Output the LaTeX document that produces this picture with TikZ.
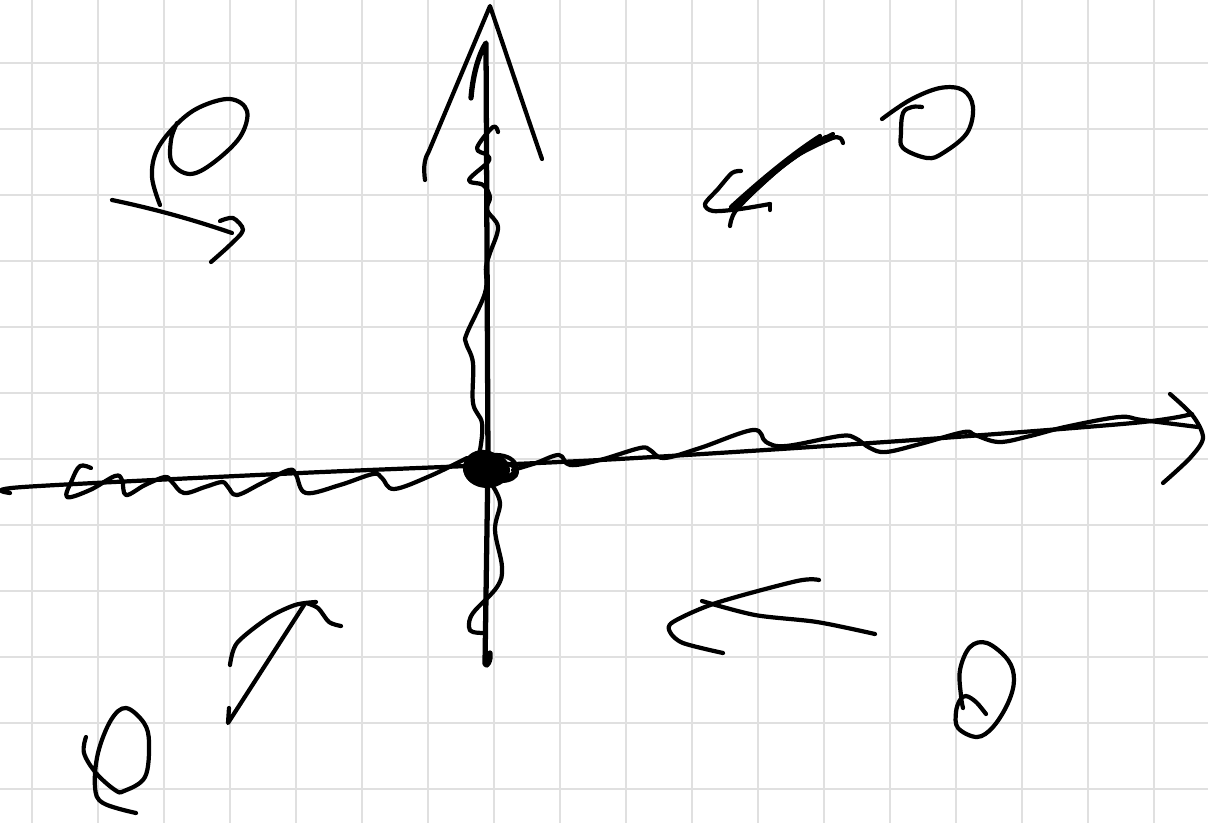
\documentclass[tikz,border=0pt]{standalone}
\usetikzlibrary{arrows.meta}
\definecolor{gridgray}{RGB}{224,224,224}
\definecolor{inkblack}{RGB}{0,0,0}
\tikzset{
  ink/.style={draw=inkblack, line width=2.4pt, line cap=round, line join=round},
  thickink/.style={ink, line width=3pt},
  gridline/.style={draw=gridgray, line width=1.1pt}
}

\begin{document}
\begin{tikzpicture}[x=0.02cm, y=-0.02cm]
  \useasboundingbox (0,0) rectangle (1208,823);
  \fill[white] (0,0) rectangle (1208,823);
  \foreach \gx in {0,...,17}
    \draw[gridline] ({31.7+66*\gx},0) -- ({31.7+66*\gx},823);
  \foreach \gy in {0,...,11}
    \draw[gridline] (0,{62.7+66*\gy}) -- (1208,{62.7+66*\gy});

  \coordinate (origin) at (487,470);

  % axes
  \draw[ink] plot[smooth] coordinates {(10,493) (23,487) (300,473) (600,460) (900,441) (1133,423) (1192,414)};
  \draw[ink] plot[smooth] coordinates {(1170,394) (1193,416) (1203,438) (1190,458) (1163,483)};
  \draw[thickink] (471,98) .. controls (473,72) and (480,52) .. (486,43) -- (488,460) -- (485,664)
    .. controls (487,668) and (491,660) .. (490,653);
  \draw[ink] (425,180) .. controls (423,165) and (425,158) .. (429,151) -- (490,6)
    .. controls (505,50) and (525,110) .. (542,159);

  % waves
  \draw[ink] plot[smooth, tension=0.6] coordinates {(498,132) (493,127) (477,148) (487,155) (488,162) (469,180) (483,185) (490,197) (487,210) (498,227) (490,253) (486,267) (485,293) (467,333) (466,343) (473,363) (473,403) (482,423) (480,450) (475,462)};
  \draw[ink] plot[smooth, tension=0.6] coordinates {(492,485) (500,503) (495,530) (502,567) (497,587) (473,613) (469,627) (473,632) (485,633)};
  \draw[ink] plot[smooth, tension=0.6] coordinates {(91,468) (80,466) (72,480) (67,497) (90,490) (115,476) (122,480) (126,495) (145,485) (165,477) (172,482) (184,493) (205,487) (222,482) (228,487) (237,495) (262,483) (289,470) (296,475) (306,493) (340,485) (373,474) (382,478) (394,489) (430,476) (467,458)};
  \draw[ink] plot[smooth, tension=0.6] coordinates {(513,470) (536,463) (559,455) (570,465) (600,460) (640,448) (650,450) (664,458) (700,448) (753,430) (766,442) (786,446) (840,436) (855,438) (870,448) (886,452) (920,444) (964,432) (975,435) (999,442) (1030,436) (1065,427) (1119,417) (1142,420) (1198,427)};

  % origin blob
  \fill[inkblack] (origin) ellipse (23 and 18);
  \draw[ink] (496,467) ellipse (20 and 12);
  \draw[ink] (501,472) ellipse (16 and 9);
  \draw[ink] (483,468) ellipse (18 and 16);

  % top left
  \draw[ink] plot[smooth, tension=0.6] coordinates {(160,205) (152,177) (157,150) (177,124) (200,107) (230,99) (247,111) (240,137) (213,163) (190,174) (172,163) (171,140) (177,123)};
  \draw[ink] (112,200) .. controls (160,210) and (200,222) .. (232,233);
  \draw[ink] plot[smooth] coordinates {(220,221) (233,218) (243,230) (230,245) (211,262)};

  % top right
  \draw[ink] (820,136) .. controls (790,155) and (755,185) .. (731,207);
  \draw[ink] (833,134) .. controls (800,150) and (765,178) .. (738,208);
  \draw[ink] (826,137) .. controls (795,155) and (760,182) .. (735,207);
  \draw[ink] plot[smooth] coordinates {(843,143) (840,138) (830,139) (790,160) (745,200)};
  \draw[ink] plot[smooth, tension=0.5] coordinates {(741,171) (732,173) (718,189) (705,204) (713,211) (740,209) (770,204)};
  \draw[ink] (770,204) -- (770,210);
  \draw[ink] (730,226) .. controls (731,218) and (734,212) .. (738,208);
  \draw[ink] plot[smooth, tension=0.6] coordinates {(882,119) (910,100) (940,88) (963,90) (973,107) (967,133) (943,153) (927,158) (903,148) (901,133) (903,113) (912,107) (922,107)};

  % bottom left
  \draw[ink] plot[smooth, tension=0.6] coordinates {(86,737) (84,753) (96,773) (115,790) (124,791) (145,777) (149,743) (144,723) (126,708) (111,720) (98,753) (95,787) (103,803) (136,813)};
  \draw[ink] (229,708) -- (228,723) -- (304,605);
  \draw[ink] plot[smooth] coordinates {(230,665) (237,643) (268,618) (295,605) (316,602)};
  \draw[ink] plot[smooth] coordinates {(306,603) (318,608) (329,622) (341,626)};

  % bottom right
  \draw[ink] plot[smooth] coordinates {(702,601) (755,615) (817,622) (875,634)};
  \draw[ink] plot[smooth] coordinates {(819,580) (797,581) (716,603) (673,622) (670,632) (683,643) (723,653)};
  \draw[ink] plot[smooth, tension=0.6] coordinates {(986,714) (976,702) (966,696) (960,700) (956,712) (958,728) (977,737) (993,727) (1008,703) (1014,680) (1008,660) (987,643) (970,647) (960,670) (961,696) (963,708)};
\end{tikzpicture}
\end{document}
